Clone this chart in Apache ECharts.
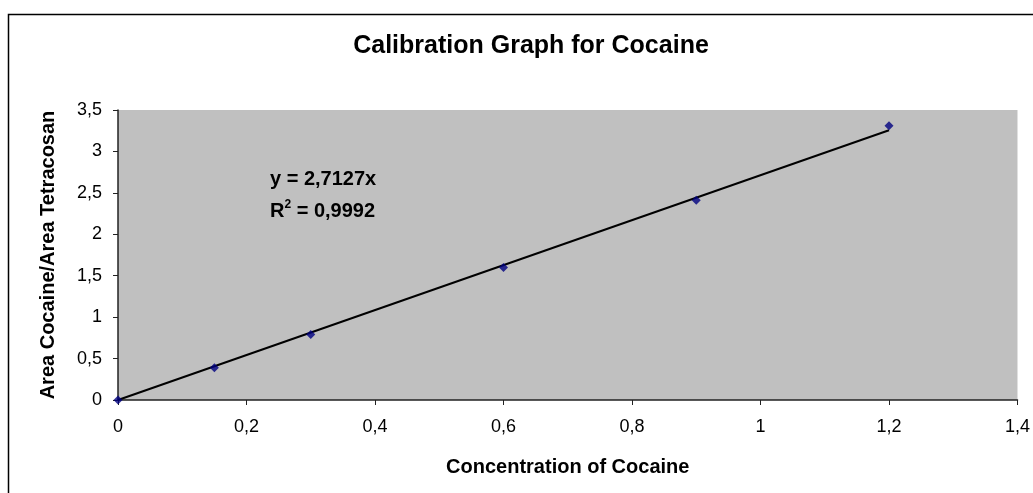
<!DOCTYPE html>
<html><head><meta charset="utf-8">
<script src="https://cdn.jsdelivr.net/npm/echarts@6/dist/echarts.min.js"></script>
<style>html,body{margin:0;padding:0;background:#fff}#c{width:1033px;height:493px}</style>
</head><body><div id="c"></div>
<script>
const concentrations = [0, 0.15, 0.3, 0.6, 0.9, 1.2];
const areaRatios = [0, 0.39, 0.79, 1.6, 2.41, 3.31];
const trendSlope = 2.7127;
const trendX = [0, 1.2];
const xTicks = {min: 0, max: 1.4, interval: 0.2};
const yTicks = {min: 0, max: 3.5, interval: 0.5};
const titleText = 'Calibration Graph for Cocaine';
const xName = 'Concentration of Cocaine';
const yName = 'Area Cocaine/Area Tetracosan';

const pts = concentrations.map((x, i) => [x, areaRatios[i]]);
const trend = trendX.map(x => [x, trendSlope * x]);
const fmt = v => String(Math.round(v * 10) / 10).replace('.', ',');
const font = 'Liberation Sans, Arial, sans-serif';

const chart = echarts.init(document.getElementById('c'));
chart.setOption({
  animation: false,
  backgroundColor: '#fff',
  title: {text: titleText, left: 526, top: 29, textAlign: 'center',
    textStyle: {fontFamily: font, fontSize: 25, fontWeight: 'bold', color: '#000'}},
  grid: {left: 118, right: 10, top: 110, bottom: 93, show: true, backgroundColor: '#c0c0c0', borderWidth: 0},
  xAxis: {type: 'value', min: xTicks.min, max: xTicks.max, interval: xTicks.interval,
    name: xName, nameLocation: 'middle', nameGap: 57,
    nameTextStyle: {fontFamily: font, fontSize: 20, fontWeight: 'bold', color: '#000'},
    axisLine: {lineStyle: {color: '#222', width: 1.5}},
    axisTick: {show: true, length: 5, lineStyle: {color: '#222'}},
    axisLabel: {formatter: fmt, fontFamily: font, fontSize: 18, color: '#000', margin: 18, showMaxLabel: true},
    splitLine: {show: false}},
  yAxis: {type: 'value', min: yTicks.min, max: yTicks.max, interval: yTicks.interval,
    name: yName, nameLocation: 'middle', nameGap: 60, nameRotate: 90,
    nameTextStyle: {fontFamily: font, fontSize: 20, fontWeight: 'bold', color: '#000'},
    axisLine: {show: true, lineStyle: {color: '#222', width: 1.5}},
    axisTick: {show: true, length: 5, lineStyle: {color: '#222'}},
    axisLabel: {formatter: fmt, fontFamily: font, fontSize: 18, color: '#000', margin: 16},
    splitLine: {show: false}},
  series: [
    {type: 'line', data: trend, symbol: 'none', lineStyle: {color: '#000', width: 2}, z: 2},
    {type: 'scatter', data: pts, symbol: 'diamond', symbolSize: 9, itemStyle: {color: '#000080'}, z: 3}
  ],
  graphic: [
    {type: 'rect', shape: {x: 8.5, y: 14.5, width: 1100, height: 600}, style: {fill: 'none', stroke: '#000', lineWidth: 1.5}, z: -1, silent: true},
    {type: 'text', left: 270, top: 169, style: {text: 'y = 2,7127x', font: 'bold 20px ' + font, fill: '#000'}},
    {type: 'text', left: 270, top: 199, style: {
      text: '{a|R}{s|2}{a| = 0,9992}',
      rich: {a: {font: 'bold 20px ' + font, fill: '#000', verticalAlign: 'bottom'},
             s: {font: 'bold 12px ' + font, fill: '#000', verticalAlign: 'top', padding: [0,0,10,0]}}}}
  ]
});
</script></body></html>
